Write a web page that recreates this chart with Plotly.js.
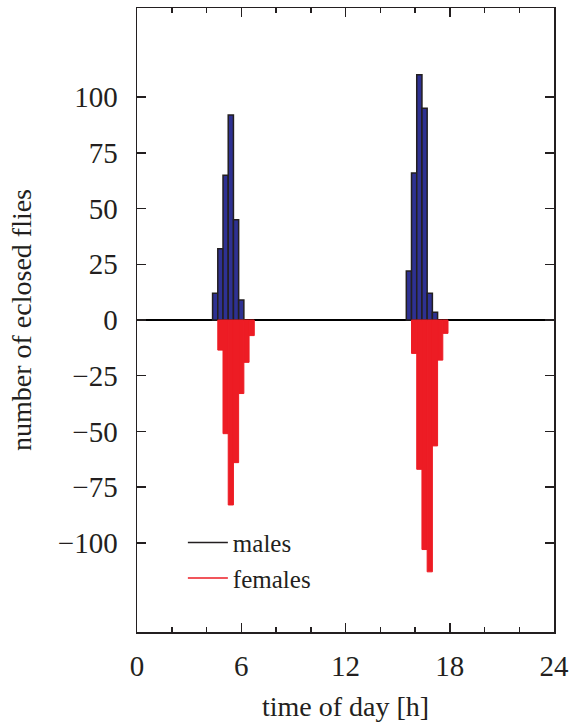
<!DOCTYPE html>
<html>
<head>
<meta charset="utf-8">
<script src="https://cdn.plot.ly/plotly-3.0.1.min.js"></script>
<style>html,body{margin:0;padding:0;background:#fff;}#chart{width:570px;height:722px;}</style>
</head>
<body>
<div id="chart"></div>
<script>
// time bins (bar centres, hours) and counts
const maleTimes = [4.5, 4.8, 5.1, 5.4, 5.7, 6.0, 15.65, 15.95, 16.25, 16.55, 16.85, 17.15];
const maleCounts = [12, 32, 65, 92, 45, 9, 22, 66, 110, 95, 12, 3.5];
const femaleTimes = [4.8, 5.1, 5.4, 5.7, 6.0, 6.3, 6.6, 15.95, 16.25, 16.55, 16.85, 17.15, 17.45, 17.75];
const femaleCounts = [-13.5, -51, -83, -64, -33, -19, -7, -15, -67, -103, -113, -56.5, -18, -6];
const binWidth = 0.3;
const xTicks = [0, 6, 12, 18, 24];
const yTicks = [-100, -75, -50, -25, 0, 25, 50, 75, 100];
const seriesNames = ['males', 'females'];

const ink = '#231f20';
const font = {family: '"Liberation Serif", "DejaVu Serif", serif', color: ink};

const traces = [
  {type: 'bar', x: maleTimes, y: maleCounts, width: binWidth, showlegend: false,
   marker: {color: '#2e3192', line: {color: ink, width: 1.5}}},
  {type: 'bar', x: femaleTimes, y: femaleCounts, width: binWidth, showlegend: false,
   marker: {color: '#ed1c24', line: {color: '#ed1c24', width: 1}}},
  {type: 'scatter', mode: 'lines', x: [null], y: [null], name: seriesNames[0],
   line: {color: ink, width: 1.5}},
  {type: 'scatter', mode: 'lines', x: [null], y: [null], name: seriesNames[1],
   line: {color: '#ed1c24', width: 1.5}}
];

const layout = {
  width: 570, height: 722,
  margin: {l: 137, r: 16, t: 8, b: 90},
  paper_bgcolor: '#fff', plot_bgcolor: '#fff',
  barmode: 'overlay',
  font: Object.assign({size: 26}, font),
  showlegend: true,
  legend: {x: 0.11, y: 0.115, xanchor: 'left', yanchor: 'middle',
           bgcolor: 'rgba(0,0,0,0)', font: Object.assign({size: 25}, font),
           itemwidth: 40, tracegroupgap: 0},
  xaxis: {
    range: [0, 24], tickvals: xTicks, ticktext: xTicks.map(String),
    ticks: 'inside', ticklen: 9, tickwidth: 1.5, tickcolor: ink,
    minor: {dtick: 2, ticks: 'inside', ticklen: 5, tickwidth: 1.5, tickcolor: ink},
    showline: true, linecolor: ink, linewidth: 1.5, mirror: 'ticks',
    showgrid: false, zeroline: false, ticklabelstandoff: 8,
    tickfont: Object.assign({size: 29}, font),
    title: {text: 'time of day [h]', font: Object.assign({size: 28}, font), standoff: 18}
  },
  yaxis: {
    range: [-140, 140], tickvals: yTicks, ticktext: yTicks.map(v => v < 0 ? '\u2212' + Math.abs(v) : String(v)),
    ticks: 'inside', ticklen: 9, tickwidth: 1.5, tickcolor: ink,
    showline: true, linecolor: ink, linewidth: 1.5, mirror: 'ticks',
    showgrid: false, zeroline: true, zerolinecolor: '#000', zerolinewidth: 2,
    ticklabelstandoff: 12,
    tickfont: Object.assign({size: 29}, font),
    title: {text: 'number of eclosed flies', font: Object.assign({size: 28}, font), standoff: 18}
  }
};

Plotly.newPlot('chart', traces, layout, {displayModeBar: false, staticPlot: true});
</script>
</body>
</html>
